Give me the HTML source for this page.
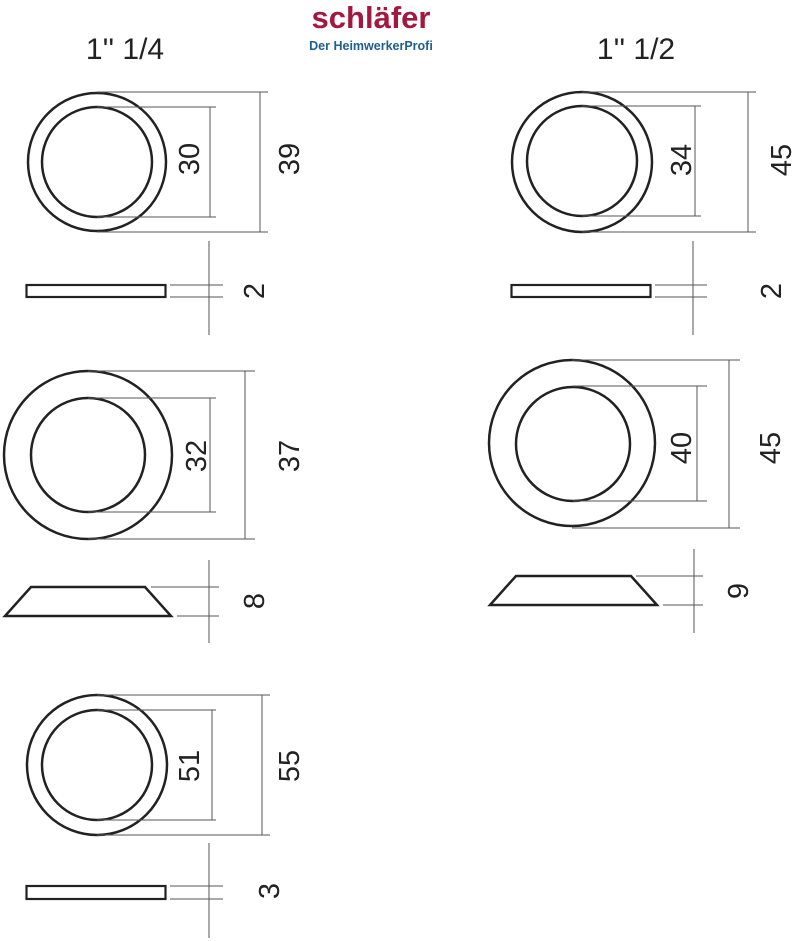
<!DOCTYPE html>
<html><head><meta charset="utf-8"><style>
html,body{margin:0;padding:0;background:#fff;}
svg{display:block;}
text{font-family:"Liberation Sans",sans-serif;}
</style></head><body>
<svg width="792" height="941" viewBox="0 0 792 941" xmlns="http://www.w3.org/2000/svg">
<rect width="792" height="941" fill="#fff"/>
<text x="371" y="28" text-anchor="middle" font-size="31" font-weight="bold" fill="#a3183f">schläfer</text>
<text x="371" y="50" text-anchor="middle" font-size="12.5" font-weight="bold" fill="#1d5f8e">Der HeimwerkerProfi</text>
<text x="125" y="59" text-anchor="middle" font-size="30" fill="#222">1'' 1/4</text>
<text x="636" y="59" text-anchor="middle" font-size="30" fill="#222">1'' 1/2</text>

<g fill="none" stroke="#222" stroke-width="2.5">
<circle cx="97" cy="162" r="69"/><circle cx="97" cy="162" r="55"/>
<rect x="26.5" y="285" width="139" height="12" stroke-width="2.2"/>
<circle cx="88" cy="455" r="84"/><circle cx="88" cy="455" r="57"/>
<polygon points="31,587 145,587 171,616 5,616"/>
<circle cx="97" cy="765" r="70"/><circle cx="97" cy="765" r="55"/>
<rect x="26.5" y="886" width="139" height="13" stroke-width="2.2"/>
<circle cx="582" cy="162" r="70"/><circle cx="582" cy="161" r="55"/>
<rect x="511.5" y="285" width="139" height="12" stroke-width="2.2"/>
<circle cx="572" cy="443" r="83"/><circle cx="573" cy="444" r="57"/>
<polygon points="516,576 631,576 657,605 490,605"/>
</g>

<g stroke="#555" stroke-width="1" fill="none">
<!-- block1 -->
<path d="M97 107H216 M97 217H216 M210 107V217 M97 92H268 M97 232H268 M260 92V232"/>
<path d="M209 241V335 M170 285H223 M170 297H223"/>
<!-- block2 -->
<path d="M88 398H216 M88 512H216 M210 398V512 M88 371H255 M88 539H255 M245 371V539"/>
<path d="M209 560V643 M151 587H219 M177 616H219"/>
<!-- block3 -->
<path d="M97 710H216 M97 820H216 M212 710V820 M97 695H270 M97 835H270 M262 695V835"/>
<path d="M209 843V938 M170 886H223 M170 899H223"/>
<!-- right block1 -->
<path d="M582 106H701 M582 216H701 M695 106V216 M582 92H756 M582 232H756 M748 92V232"/>
<path d="M693 241V335 M655 285H707 M655 297H707"/>
<!-- right block2 -->
<path d="M573 386H707 M573 501H707 M697 386V501 M572 360H740 M572 528H740 M729 360V528"/>
<path d="M694 549V633 M636 576H703 M663 605H703"/>
</g>

<g font-size="29" fill="#222" text-anchor="middle">
<text transform="translate(199,159) rotate(-90)">30</text>
<text transform="translate(299,159) rotate(-90)">39</text>
<text transform="translate(264,291) rotate(-90)">2</text>
<text transform="translate(206,456) rotate(-90)">32</text>
<text transform="translate(299,456) rotate(-90)">37</text>
<text transform="translate(264,601) rotate(-90)">8</text>
<text transform="translate(199,766) rotate(-90)">51</text>
<text transform="translate(299,766) rotate(-90)">55</text>
<text transform="translate(279,891) rotate(-90)">3</text>
<text transform="translate(691,160) rotate(-90)">34</text>
<text transform="translate(791,160) rotate(-90)">45</text>
<text transform="translate(781,291) rotate(-90)">2</text>
<text transform="translate(691,448) rotate(-90)">40</text>
<text transform="translate(780,448) rotate(-90)">45</text>
<text transform="translate(748,591) rotate(-90)">9</text>
</g>
</svg>
</body></html>
